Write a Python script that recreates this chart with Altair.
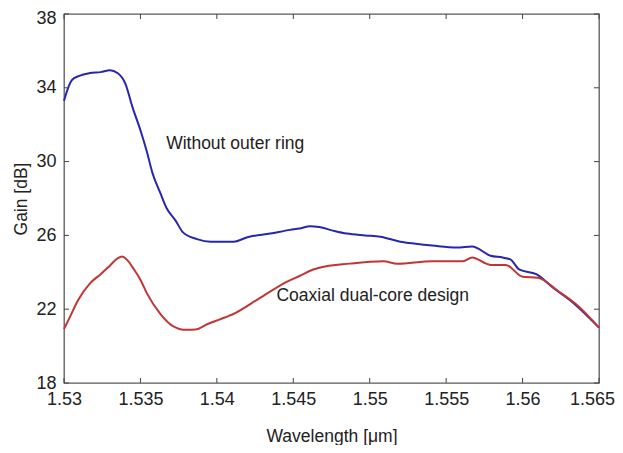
import altair as alt
import pandas as pd

# Blue curve: without outer ring
blue_w = [1.5300, 1.5305, 1.5310, 1.5317, 1.5324, 1.5330, 1.5335, 1.5340, 1.5345, 1.5350,
          1.5354, 1.5358, 1.5363, 1.5367, 1.5373, 1.5378, 1.5387, 1.5396, 1.5411, 1.5420,
          1.5435, 1.5448, 1.5454, 1.5461, 1.5467, 1.5476, 1.5485, 1.5497, 1.5507, 1.5520,
          1.5530, 1.5541, 1.5557, 1.5567, 1.5579, 1.5587, 1.5592, 1.5598, 1.5609, 1.5620,
          1.5633, 1.5650]
blue_g = [33.3, 34.4, 34.65, 34.8, 34.85, 34.95, 34.8, 34.25, 32.9, 31.7,
          30.6, 29.35, 28.3, 27.5, 26.8, 26.15, 25.8, 25.66, 25.66, 25.9,
          26.1, 26.3, 26.37, 26.5, 26.45, 26.26, 26.1, 26.0, 25.93, 25.66,
          25.55, 25.45, 25.34, 25.4, 24.9, 24.8, 24.7, 24.14, 23.9, 23.16,
          22.35, 21.0]

# Red curve: coaxial dual-core design
red_w = [1.5300, 1.5304, 1.5309, 1.5317, 1.5324, 1.5330, 1.5335, 1.5338, 1.5341, 1.5345,
         1.5350, 1.5354, 1.5363, 1.5371, 1.5380, 1.5386, 1.5394, 1.5402, 1.5411, 1.5428,
         1.5446, 1.5454, 1.5463, 1.5467, 1.5487, 1.5509, 1.5518, 1.5541, 1.5561, 1.5567,
         1.5579, 1.5589, 1.5600, 1.5610, 1.5623, 1.5636, 1.5650]
red_g = [20.93, 21.6, 22.46, 23.4, 23.9, 24.36, 24.75, 24.85, 24.7, 24.25,
         23.6, 22.9, 21.75, 21.1, 20.88, 20.9, 21.2, 21.45, 21.75, 22.6,
         23.5, 23.8, 24.15, 24.25, 24.47, 24.6, 24.47, 24.6, 24.6, 24.8,
         24.4, 24.4, 23.76, 23.7, 23.0, 22.2, 21.0]

series_names = ["Without outer ring", "Coaxial dual-core design"]
series_colors = ["#2626b0", "#c23535"]

x_ticks = [1.53, 1.535, 1.54, 1.545, 1.55, 1.555, 1.56, 1.565]
y_ticks = [18, 22, 26, 30, 34, 38]

label_texts = ["Without outer ring", "Coaxial dual-core design"]
label_w = [1.5412, 1.5502]
label_g = [30.95, 22.7]

FONT = "Liberation Sans"
W, H = 535, 369
XTITLE = "Wavelength [\u03bcm]"
YTITLE = "Gain [dB]"

df = pd.concat([
    pd.DataFrame({"w": blue_w, "g": blue_g, "series": series_names[0]}),
    pd.DataFrame({"w": red_w, "g": red_g, "series": series_names[1]}),
])
xt = pd.DataFrame({"w": x_ticks, "g": [18.0] * len(x_ticks)})
yt = pd.DataFrame({"g": y_ticks, "w": [1.53] * len(y_ticks)})
lab = pd.DataFrame({"w": label_w, "g": label_g, "t": label_texts})

xscale = alt.Scale(domain=[1.53, 1.565], nice=False, zero=False)
yscale = alt.Scale(domain=[18, 38], nice=False, zero=False)

xaxis = alt.Axis(values=x_ticks, format=".3~f", ticks=False, domain=False,
                 grid=False, labelFlush=False, labelOverlap=False,
                 labelPadding=7, titlePadding=19,
                 labelOffset={"condition": {"test": "datum.value > 1.5645", "value": -7},
                              "value": 0})
yaxis = alt.Axis(values=y_ticks, ticks=False, domain=False, grid=False,
                 labelPadding=8, titlePadding=5,
                 labelOffset={"condition": {"test": "datum.value > 37.5", "value": 4},
                              "value": 0})

X = alt.X("w:Q", scale=xscale, title=XTITLE, axis=xaxis)
Y = alt.Y("g:Q", scale=yscale, title=YTITLE, axis=yaxis)

lines = alt.Chart(df).mark_line(strokeWidth=2, interpolate="monotone").encode(
    x=X, y=Y,
    color=alt.Color("series:N", scale=alt.Scale(domain=series_names, range=series_colors),
                    legend=None),
)

tick_color = "#444"
xt_bottom = alt.Chart(xt).mark_rule(color=tick_color, strokeWidth=1).encode(
    x=X, y=alt.value(H), y2=alt.value(H - 5))
xt_top = alt.Chart(xt).mark_rule(color=tick_color, strokeWidth=1).encode(
    x=X, y=alt.value(0), y2=alt.value(5))
yt_left = alt.Chart(yt).mark_rule(color=tick_color, strokeWidth=1).encode(
    y=Y, x=alt.value(0), x2=alt.value(5))
yt_right = alt.Chart(yt).mark_rule(color=tick_color, strokeWidth=1).encode(
    y=Y, x=alt.value(W), x2=alt.value(W - 5))

texts = alt.Chart(lab).mark_text(font=FONT, fontSize=17.5, color="#222").encode(
    x=X, y=Y, text="t:N",
)

chart = alt.layer(lines, xt_bottom, xt_top, yt_left, yt_right, texts).properties(
    width=W, height=H,
    background="white",
    autosize=alt.AutoSizeParams(type="none"),
    padding={"left": 56, "top": 6, "right": 16, "bottom": 62},
).configure_view(
    stroke="#5a5a5a", strokeWidth=1.3
).configure_axis(
    labelFont=FONT, titleFont=FONT, labelFontSize=18, titleFontSize=17.5,
    labelColor="#222", titleColor="#222", titleFontWeight="normal",
)

chart.save("out.html", embed_options={"renderer": "svg", "actions": False})
